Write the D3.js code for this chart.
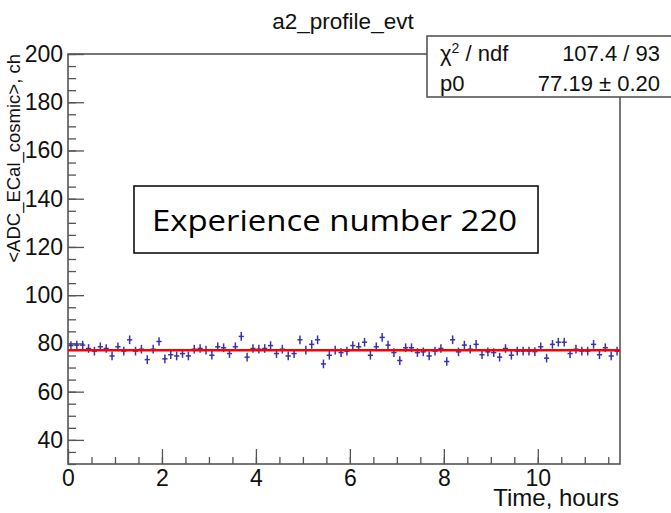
<!DOCTYPE html>
<html>
<head>
<meta charset="utf-8">
<script src="https://cdn.jsdelivr.net/npm/d3@7"></script>
<style>
  body { margin: 0; background: #fff; }
  svg { display: block; }
  text { font-family: "Liberation Sans", Arial, sans-serif; fill: #111; }
</style>
</head>
<body>
<div id="chart"></div>
<script>
// profile a2_profile_evt : mean ADC per 7.5 min bin (0.125 h)
var binWidth = 0.125;
var adcMeans = [
  79.1, 79.3, 79.3, 77.9, 76.8, 78.6, 77.9, 74.8, 78.6, 76.8,
  81.5, 76.8, 77.6, 73.3, 77.6, 80.8, 73.6, 75.3, 74.8, 75.8,
  74.8, 77.6, 77.9, 77.2, 75.1, 78.6, 78.2, 75.8, 78.6, 82.9,
  74.3, 77.9, 77.6, 77.9, 79.1, 75.8, 77.6, 74.8, 75.8, 81.5,
  77.2, 79.6, 81.5, 71.5, 75.1, 77.2, 76.2, 76.8, 79.1, 78.6,
  80.5, 75.1, 78.6, 82.5, 79.3, 76.2, 72.9, 78.2, 78.2, 76.2,
  76.5, 74.8, 76.8, 77.9, 72.5, 81.5, 76.5, 79.3, 77.6, 79.6,
  75.3, 76.5, 76.2, 74.3, 77.9, 75.1, 76.8, 76.8, 76.8, 76.6,
  78.6, 73.9, 79.6, 80.5, 80.5, 75.8, 77.6, 76.8, 76.8, 79.6,
  75.3, 78.2, 74.8, 76.8
];
var binError = 1.8;
var fitP0 = 77.19;

var xTicks = [0, 2, 4, 6, 8, 10];
var yTicks = [40, 60, 80, 100, 120, 140, 160, 180, 200];
var statsRows = [
  {name: "ndf", value: "107.4 / 93"},
  {name: "p0", value: "77.19 \u00b1 0.20"}
];

var width = 671, height = 513;
var frameL = 68, frameR = 620, frameT = 54, frameB = 464;

var svg = d3.select("#chart").append("svg")
  .attr("width", width)
  .attr("height", height);

var x = d3.scaleLinear().domain([0, adcMeans.length * binWidth]).range([frameL, frameR]);
var y = d3.scaleLinear().domain([30, 200]).range([frameB, frameT]);

var points = adcMeans.map(function(v, i) {
  return {t: (i + 0.5) * binWidth, v: v};
});

// minor ticks
svg.append("g")
  .attr("transform", "translate(" + frameL + ",0)")
  .call(d3.axisLeft(y).tickValues(d3.range(30, 201, 5)).tickSize(-8).tickFormat(""))
  .call(g => g.select(".domain").remove());
svg.append("g")
  .attr("transform", "translate(0," + frameB + ")")
  .call(d3.axisBottom(x).tickValues(d3.range(0.5, 11.6, 0.5)).tickSize(-7).tickFormat(""))
  .call(g => g.select(".domain").remove());

// major ticks + labels
var yAxis = svg.append("g")
  .attr("transform", "translate(" + frameL + ",0)")
  .call(d3.axisLeft(y).tickValues(yTicks).tickSize(-16).tickPadding(5));
yAxis.select(".domain").remove();
yAxis.selectAll("text").style("font-size", "23px").attr("font-family", "Liberation Sans");

var xAxis = svg.append("g")
  .attr("transform", "translate(0," + frameB + ")")
  .call(d3.axisBottom(x).tickValues(xTicks).tickSize(-15).tickPadding(6));
xAxis.select(".domain").remove();
xAxis.selectAll("text").style("font-size", "23px").attr("font-family", "Liberation Sans");

svg.selectAll(".tick line").attr("stroke", "#555").attr("stroke-width", 1.3);

// frame
svg.append("rect")
  .attr("x", frameL).attr("y", frameT)
  .attr("width", frameR - frameL).attr("height", frameB - frameT)
  .attr("fill", "none")
  .attr("stroke", "#555")
  .attr("stroke-width", 1.6);

// data points with error bars
var pts = svg.append("g").attr("stroke", "#3535a5").attr("stroke-width", 1.5);
pts.selectAll(".ev").data(points).enter().append("line")
  .attr("x1", d => x(d.t)).attr("x2", d => x(d.t))
  .attr("y1", d => y(d.v - binError)).attr("y2", d => y(d.v + binError));
pts.selectAll(".eh").data(points).enter().append("line")
  .attr("x1", d => x(d.t - 0.055)).attr("x2", d => x(d.t + 0.055))
  .attr("y1", d => y(d.v)).attr("y2", d => y(d.v));

// fit pol0
svg.append("line")
  .attr("x1", x(0)).attr("x2", x(adcMeans.length * binWidth))
  .attr("y1", y(fitP0)).attr("y2", y(fitP0))
  .attr("stroke", "#ff0000")
  .attr("stroke-width", 2.4);

// title
svg.append("text")
  .attr("x", 343).attr("y", 29)
  .attr("text-anchor", "middle")
  .style("font-size", "22.5px")
  .text("a2_profile_evt");

// axis titles
svg.append("text")
  .attr("transform", "translate(20," + frameT + ") rotate(-90)")
  .attr("text-anchor", "end")
  .style("font-size", "18.5px")
  .text("<ADC_ECal_cosmic>, ch");

svg.append("text")
  .attr("x", frameR - 1).attr("y", 506)
  .attr("text-anchor", "end")
  .style("font-size", "24px")
  .text("Time, hours");

// stats box
var stats = svg.append("g");
stats.append("rect")
  .attr("x", 427).attr("y", 36)
  .attr("width", 260).attr("height", 61)
  .attr("fill", "#fff")
  .attr("stroke", "#555")
  .attr("stroke-width", 1.6);
var chi = stats.append("text").attr("x", 440).attr("y", 61).style("font-size", "22px");
chi.append("tspan").text("\u03c7");
chi.append("tspan").attr("dy", -8).style("font-size", "14px").text("2");
chi.append("tspan").attr("dy", 8).text(" / " + statsRows[0].name);
stats.append("text").attr("x", 440).attr("y", 91).style("font-size", "22px").text(statsRows[1].name);
stats.selectAll(".val").data(statsRows).enter().append("text")
  .attr("x", 660)
  .attr("y", (d, i) => 61 + i * 30)
  .attr("text-anchor", "end")
  .style("font-size", "22px")
  .text(d => d.value);

// annotation box
svg.append("rect")
  .attr("x", 134).attr("y", 186)
  .attr("width", 404).attr("height", 67)
  .attr("fill", "#fff")
  .attr("stroke", "#000")
  .attr("stroke-width", 1.5);
svg.append("text")
  .attr("x", 152).attr("y", 231)
  .attr("textLength", 365)
  .attr("lengthAdjust", "spacingAndGlyphs")
  .style("font-family", "'Open Sans', sans-serif")
  .style("font-size", "30px")
  .style("fill", "#000")
  .text("Experience number 220");
</script>
</body>
</html>
